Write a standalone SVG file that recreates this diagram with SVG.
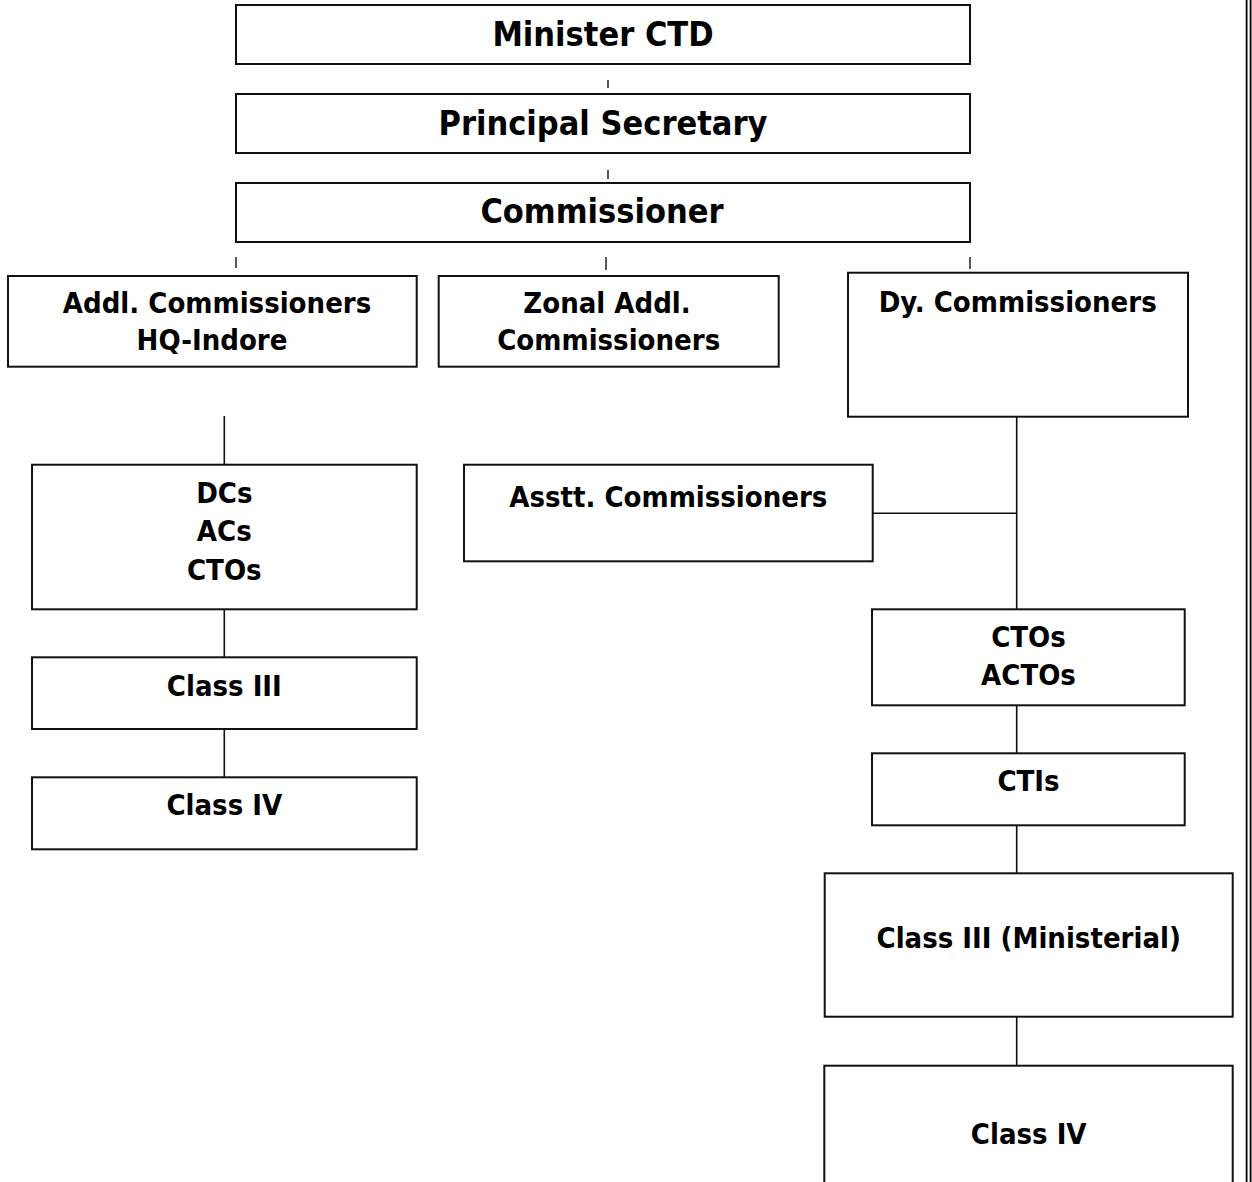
<svg xmlns="http://www.w3.org/2000/svg" width="1252" height="1182" viewBox="0 0 1252 1182">
<style>
  .box { fill: #ffffff; stroke: #111111; stroke-width: 2; }
  .ln { stroke: #111111; stroke-width: 1.6; fill: none; }
  .tk { stroke: #111111; stroke-width: 1.4; fill: none; }
  .bd { stroke: #000000; stroke-width: 1.8; fill: none; }
  text { font-family: 'DejaVu Sans Condensed', 'DejaVu Sans', sans-serif; font-stretch: condensed; font-weight: bold; fill: #000000; text-anchor: middle; }
  .big { font-size: 34px; }
  .sm { font-size: 29px; }
</style>
<rect x="0" y="0" width="1252" height="1182" fill="#ffffff"/>
<g id="border">
  <line class="bd" x1="1246.6" y1="0" x2="1246.6" y2="1182"/>
  <line class="bd" x1="1250.6" y1="0" x2="1250.6" y2="1182"/>
</g>
<g id="connectors">
  <line class="tk" x1="608" y1="80" x2="608" y2="88"/>
  <line class="tk" x1="608" y1="170" x2="608" y2="179"/>
  <line class="tk" x1="236" y1="257" x2="236" y2="268"/>
  <line class="tk" x1="606" y1="257" x2="606" y2="270"/>
  <line class="tk" x1="970" y1="257" x2="970" y2="269"/>
  <line class="ln" x1="224.3" y1="416" x2="224.3" y2="465"/>
  <line class="ln" x1="224.3" y1="609" x2="224.3" y2="657"/>
  <line class="ln" x1="224.3" y1="729" x2="224.3" y2="777"/>
  <line class="ln" x1="1016.7" y1="417" x2="1016.7" y2="609"/>
  <line class="ln" x1="873" y1="513.3" x2="1016.7" y2="513.3"/>
  <line class="ln" x1="1016.7" y1="705" x2="1016.7" y2="753"/>
  <line class="ln" x1="1016.7" y1="825" x2="1016.7" y2="873"/>
  <line class="ln" x1="1016.7" y1="1017" x2="1016.7" y2="1066"/>
</g>
<g id="minister">
  <rect class="box" x="236" y="5" width="734" height="59"/>
  <text class="big" x="603" y="46">Minister CTD</text>
</g>
<g id="principal-secretary">
  <rect class="box" x="236" y="94" width="734" height="59"/>
  <text class="big" x="603" y="135">Principal Secretary</text>
</g>
<g id="commissioner">
  <rect class="box" x="236" y="183" width="734" height="59"/>
  <text class="big" x="602" y="223">Commissioner</text>
</g>
<g id="addl-commissioners">
  <rect class="box" x="8" y="276" width="408.7" height="90.7"/>
  <text class="sm" x="217" y="313">Addl. Commissioners</text>
  <text class="sm" x="212" y="350">HQ-Indore</text>
</g>
<g id="zonal-addl">
  <rect class="box" x="438.7" y="276" width="340" height="90.7"/>
  <text class="sm" x="607" y="313">Zonal Addl.</text>
  <text class="sm" x="608.7" y="350">Commissioners</text>
</g>
<g id="dy-commissioners">
  <rect class="box" x="848" y="272.7" width="340" height="144"/>
  <text class="sm" x="1017.7" y="312">Dy. Commissioners</text>
</g>
<g id="dcs">
  <rect class="box" x="32" y="464.7" width="384.7" height="144.6"/>
  <text class="sm" x="224.3" y="503">DCs</text>
  <text class="sm" x="224.3" y="541">ACs</text>
  <text class="sm" x="224.3" y="580">CTOs</text>
</g>
<g id="asstt-commissioners">
  <rect class="box" x="464" y="464.7" width="408.7" height="96.6"/>
  <text class="sm" x="668.3" y="507">Asstt. Commissioners</text>
</g>
<g id="class3-left">
  <rect class="box" x="32" y="657.3" width="384.7" height="71.7"/>
  <text class="sm" x="224.3" y="696">Class III</text>
</g>
<g id="class4-left">
  <rect class="box" x="32" y="777.3" width="384.7" height="72"/>
  <text class="sm" x="224.3" y="815">Class IV</text>
</g>
<g id="ctos-actos">
  <rect class="box" x="872" y="609.3" width="312.7" height="96"/>
  <text class="sm" x="1028.5" y="647">CTOs</text>
  <text class="sm" x="1028.5" y="685">ACTOs</text>
</g>
<g id="ctis">
  <rect class="box" x="872" y="753.3" width="312.7" height="72"/>
  <text class="sm" x="1028.5" y="791">CTIs</text>
</g>
<g id="class3-ministerial">
  <rect class="box" x="824.7" y="873.3" width="408" height="143.4"/>
  <text class="sm" x="1028.7" y="948">Class III (Ministerial)</text>
</g>
<g id="class4-right">
  <rect class="box" x="824.3" y="1065.7" width="408.4" height="140"/>
  <text class="sm" x="1028.7" y="1144">Class IV</text>
</g>
</svg>
